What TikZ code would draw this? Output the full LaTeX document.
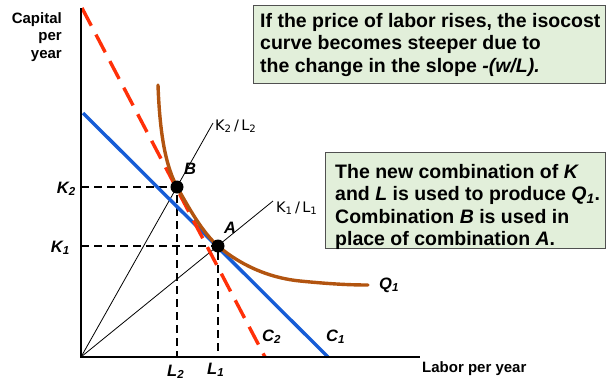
\documentclass[tikz,border=0pt]{standalone}
\usepackage{fontspec}
\setmainfont{Liberation Sans}
\newfontfamily\ratiofont{DejaVu Sans}
\definecolor{blueC}{RGB}{22,92,214}
\definecolor{redC}{RGB}{255,48,8}
\definecolor{brownC}{RGB}{178,84,16}
\definecolor{boxFill}{RGB}{226,239,218}
\definecolor{boxBorder}{RGB}{80,80,80}
\begin{document}
\begin{tikzpicture}[x=1pt,y=-1pt,
  axis/.style={line width=2.2pt},
  budgetone/.style={line width=3.4pt, draw=blueC},
  budgettwo/.style={line width=3.4pt, draw=redC, dash pattern=on 20pt off 10pt},
  isoq/.style={line width=3.4pt, draw=brownC, line cap=round},
  ray/.style={line width=0.8pt},
  guide/.style={line width=1.5pt, dash pattern=on 8pt off 5pt},
  dot/.style={circle, fill=black, inner sep=0pt, minimum size=13pt},
  note/.style={draw=boxBorder, fill=boxFill, line width=1.2pt, inner sep=0pt},
  notetext/.style={font=\fontsize{19.5}{22.5}\selectfont\bfseries, align=left, anchor=north west, inner sep=0pt},
  lab/.style={font=\fontsize{16.5}{18}\selectfont\bfseries\itshape, inner sep=0pt, anchor=base west},
  axlab/.style={font=\fontsize{15}{17.5}\selectfont\bfseries, inner sep=0pt},
  ratio/.style={font=\ratiofont\fontsize{14.5}{16}\selectfont, inner sep=0pt, anchor=west}
]
\useasboundingbox (0,0) rectangle (606,381);

% coordinates
\coordinate (O) at (81,357);
\coordinate (ytop) at (81,8);
\coordinate (xend) at (420,357);
\coordinate (r1) at (82,8);
\coordinate (r2) at (265,357);
\coordinate (b1) at (83,113);
\coordinate (b2) at (328,357);
\coordinate (K2ax) at (81,187);
\coordinate (K1ax) at (81,246);
\coordinate (L2ax) at (177,357);
\coordinate (L1ax) at (218,357);
\coordinate (rayBend) at (213,123);
\coordinate (rayAend) at (273,201);

% notes
\node[note, minimum width=352pt, minimum height=78pt, anchor=north west] (box1) at (253,5) {};
\node[notetext] (t1) at (260,13) {If the price of labor rises, the isocost\\curve becomes steeper due to\\the change in the slope \textit{-(w/L).}};
\node[note, minimum width=280pt, minimum height=96pt, anchor=north west] (box2) at (325,152) {};
\node[notetext] (t2) at (335,164) {The new combination of \textit{K}\\and \textit{L} is used to produce \textit{Q\textsubscript{1}}.\\Combination \textit{B} is used in\\place of combination \textit{A}.};

% rays
\draw[ray] (O) -- (rayBend);
\draw[ray] (O) -- (rayAend);
\node[ratio] (kl2) at (215,126) {K\textsubscript{2}\,/\,L\textsubscript{2}};
\node[ratio] (kl1) at (276,208) {K\textsubscript{1}\,/\,L\textsubscript{1}};

% points
\coordinate (B) at (177,187);
\coordinate (A) at (218,246);

% guides
\draw[guide] (K2ax) -- (B) -- (L2ax);
\draw[guide] (K1ax) -- (A) -- (L1ax);

% isocost lines
\draw[budgetone] (b1) -- (b2);
\draw[budgettwo] (r1) -- (r2);

% isoquant
\draw[isoq] (158,85) .. controls (160,140) and (167,168) .. (B)
  .. controls (189,208) and (202,232) .. (A)
  .. controls (232,258) and (260,277) .. (300,281)
  .. controls (330,284) and (350,285) .. (368,285);

% axes
\draw[axis] (ytop) -- (O) -- (xend);

% dots
\node[dot] (dB) at (B) {};
\node[dot] (dA) at (A) {};

% labels
\node[lab] (lB) at (184,174) {B};
\node[lab] (lA) at (224,233) {A};
\node[lab, anchor=base east] (lK2) at (76,193) {K\textsubscript{2}};
\node[lab, anchor=base east] (lK1) at (70,252) {K\textsubscript{1}};
\node[lab] (lL2) at (167,376) {L\textsubscript{2}};
\node[lab] (lL1) at (207,374) {L\textsubscript{1}};
\node[lab] (lC2) at (262,341) {C\textsubscript{2}};
\node[lab] (lC1) at (326,341) {C\textsubscript{1}};
\node[lab] (lQ1) at (379,289) {Q\textsubscript{1}};
\node[axlab, anchor=base west] (xlab) at (422,372) {Labor per year};
\node[axlab, align=right, anchor=north east] (ylab) at (62,12) {Capital\\per\\year};
\end{tikzpicture}
\end{document}
